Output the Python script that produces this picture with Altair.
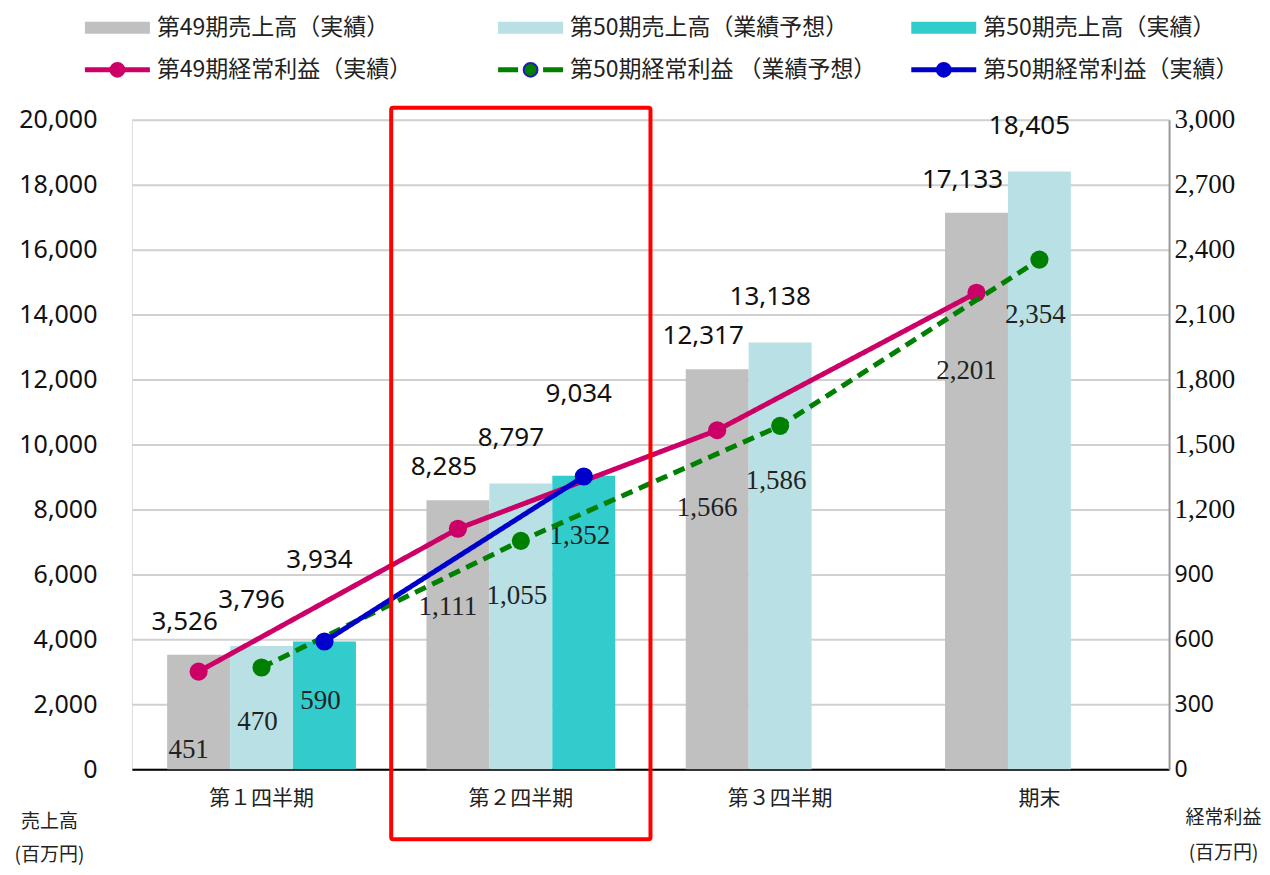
import altair as alt
import pandas as pd

# ---------------- data ----------------
QUARTERS = ["第１四半期", "第２四半期", "第３四半期", "期末"]
HIGHLIGHT = ["第２四半期"]

SALES_49 = [3526, 8285, 12317, 17133]
SALES_50_FORECAST = [3796, 8797, 13138, 18405]
SALES_50_ACTUAL = [3934, 9034]

PROFIT_49 = [451, 1111, 1566, 2201]
PROFIT_50_FORECAST = [470, 1055, 1586, 2354]
PROFIT_50_ACTUAL = [590, 1352]

BAR_NAMES = ["第49期売上高（実績）", "第50期売上高（業績予想）", "第50期売上高（実績）"]
LINE_NAMES = ["第49期経常利益（実績）", "第50期経常利益 （業績予想）", "第50期経常利益（実績）"]

LEFT_TICKS = list(range(0, 20001, 2000))
RIGHT_TICKS = list(range(0, 3001, 300))

# ---------------- styles ----------------
BAR_STYLE = [
    {"color": "#c0c0c0", "dx": -14, "dy": -33},
    {"color": "#b9e0e4", "dx": -10, "dy": -46},
    {"color": "#33cccc", "dx": -5, "dy": -82},
]
LINE_STYLE = [
    {"color": "#cc0066", "dash": [1, 0], "dx": -10, "dy": 78},
    {"color": "#008000", "dash": [12, 7], "dx": -4, "dy": 55},
    {"color": "#0000cc", "dash": [1, 0], "dx": -4, "dy": 60},
]
LEGEND_DASH = [[1, 0], [20, 25], [1, 0]]
LEGEND_POINT_STROKE = ["#cc0066", "#2020b0", "#0000cc"]

JP = "Noto Sans CJK JP"
SANS = "Noto Sans"
SERIF = "Liberation Serif"

# ---------------- shared encodings ----------------
X = alt.X(
    "quarter:N",
    scale=alt.Scale(domain=QUARTERS, paddingInner=0, paddingOuter=0),
    axis=alt.Axis(
        title=None, labelAngle=0, labelFont=JP, labelFontSize=21, labelColor="#222",
        labelPadding=18, ticks=False, domainColor="#000", domainWidth=2, grid=False,
    ),
)
XO = alt.XOffset("slot:O", scale=alt.Scale(domain=[0, 1, 2], paddingInner=0, paddingOuter=0.56))

YL = alt.Y(
    "sales:Q",
    scale=alt.Scale(domain=[0, 20000]),
    axis=alt.Axis(
        values=LEFT_TICKS, format=",.0f", grid=True, gridColor="#d0d0d0", gridWidth=2,
        domain=False, ticks=False, labelPadding=35, labelFont=SANS, labelFontSize=25,
        labelColor="#111",
        title=["売上高", "(百万円)"], titleAngle=0, titleAlign="center", titleBaseline="middle",
        titleX=-83, titleY=702, titleFont=JP, titleFontSize=19, titleFontWeight="normal",
        titleLineHeight=33, titleColor="#222",
    ),
)
YR = alt.Y(
    "profit:Q",
    scale=alt.Scale(domain=[0, 3000]),
    axis=alt.Axis(
        orient="right", values=RIGHT_TICKS, format=",.0f", grid=False,
        domainColor="#999999", domainWidth=2, ticks=False, labelPadding=5,
        labelFont=alt.condition("datum.value < 1000", alt.value(SANS), alt.value(SERIF)),
        labelFontSize=alt.condition("datum.value < 1000", alt.value(23), alt.value(27)),
        labelColor="#111",
        title=["経常利益", "(百万円)"], titleAngle=0, titleAlign="center", titleBaseline="middle",
        titleX=54, titleY=698, titleFont=JP, titleFontSize=19, titleFontWeight="normal",
        titleLineHeight=35, titleColor="#222",
    ),
)

# ---------------- left (sales) group ----------------
left_layers = []
text_layers = []
for slot, (vals, st) in enumerate(zip([SALES_49, SALES_50_FORECAST, SALES_50_ACTUAL], BAR_STYLE)):
    df = pd.DataFrame({"quarter": QUARTERS[: len(vals)], "slot": slot, "sales": vals})
    base = alt.Chart(df).encode(x=X, xOffset=XO, y=YL)
    left_layers.append(base.mark_bar(color=st["color"]))
    text_layers.append(
        base.mark_text(dx=st["dx"], dy=st["dy"], font=SANS, fontSize=26, color="#111",
                       baseline="middle", align="center")
        .encode(text=alt.Text("sales:Q", format=","))
    )
left = alt.layer(*left_layers, *text_layers)

# ---------------- right (profit) group ----------------
line_layers = []
ptext_layers = []
for slot, (vals, st) in enumerate(zip([PROFIT_49, PROFIT_50_FORECAST, PROFIT_50_ACTUAL], LINE_STYLE)):
    df = pd.DataFrame({"quarter": QUARTERS[: len(vals)], "slot": slot, "profit": vals})
    base = alt.Chart(df).encode(x=X, xOffset=XO, y=YR)
    line_layers.append(base.mark_line(color=st["color"], strokeWidth=5, strokeDash=st["dash"]))
    line_layers.append(base.mark_point(filled=True, fill=st["color"], color=st["color"],
                                       size=330, opacity=1))
    ptext_layers.append(
        base.mark_text(dx=st["dx"], dy=st["dy"], font=SERIF, fontSize=27, color="#222",
                       baseline="middle", align="center")
        .encode(text=alt.Text("profit:Q", format=","))
    )
right = alt.layer(*ptext_layers, *line_layers)

frame = alt.Chart(pd.DataFrame({"quarter": HIGHLIGHT})).mark_rect(
    fill="transparent", stroke="#ff0000", strokeWidth=4, cornerRadius=2
).encode(x=X, y=alt.value(-12), y2=alt.value(720))

main = alt.layer(left, right, frame).resolve_scale(y="independent")

# ---------------- legend (drawn above the plot area) ----------------
leg = pd.DataFrame({
    "lname": BAR_NAMES + LINE_NAMES,
    "lcol": [0, 1, 2, 0, 1, 2],
    "lrow": [0, 0, 0, 1, 1, 1],
})
LX = alt.X("lcol:Q", scale=alt.Scale(domain=[0, 2], range=[-47, 780]), axis=None)
LX2 = alt.X2("lcol")
LY = alt.Y("lrow:Q", scale=alt.Scale(domain=[0, 1], range=[-92, -50]), axis=None)
all_names = BAR_NAMES + LINE_NAMES
all_colors = [s["color"] for s in BAR_STYLE] + [s["color"] for s in LINE_STYLE]
LC = alt.Color("lname:N", scale=alt.Scale(domain=all_names, range=all_colors), legend=None)

bars_leg = alt.Chart(leg).transform_filter("datum.lrow == 0").mark_rule(
    strokeWidth=12, x2Offset=65
).encode(x=LX, x2=LX2, y=LY, color=LC)
lines_leg = alt.Chart(leg).transform_filter("datum.lrow == 1").mark_rule(
    strokeWidth=5, x2Offset=65
).encode(
    x=LX, x2=LX2, y=LY, color=LC,
    strokeDash=alt.StrokeDash("lname:N", scale=alt.Scale(domain=LINE_NAMES, range=LEGEND_DASH), legend=None),
)
points_leg = alt.Chart(leg).transform_filter("datum.lrow == 1").mark_point(
    filled=True, size=190, xOffset=32.5, strokeWidth=2, opacity=1
).encode(
    x=LX, y=LY,
    fill=alt.Fill("lname:N", scale=alt.Scale(domain=all_names, range=all_colors), legend=None),
    stroke=alt.Stroke("lname:N", scale=alt.Scale(domain=LINE_NAMES, range=LEGEND_POINT_STROKE), legend=None),
)
text_leg = alt.Chart(leg).mark_text(
    align="left", baseline="middle", dx=72, font=JP, fontSize=23, color="#222"
).encode(x=LX, y=LY, text="lname:N")

legend = alt.layer(bars_leg, lines_leg, points_leg, text_leg)

chart = (
    alt.layer(main, legend)
    .resolve_scale(x="independent", y="independent")
    .properties(width=1038, height=650, padding={"left": 6, "top": 8.5, "right": 0, "bottom": 0})
    .configure_view(stroke=None)
    .configure(background="white")
)

chart.save("out.html", embed_options={"renderer": "svg", "actions": False})
